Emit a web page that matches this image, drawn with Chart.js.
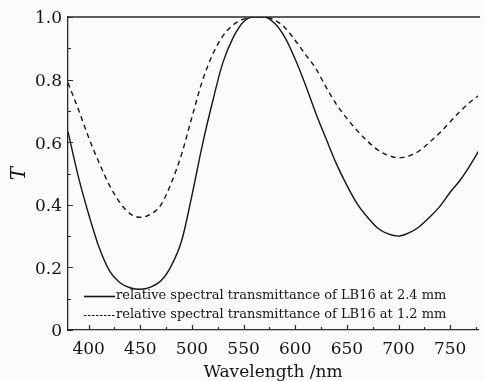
<!DOCTYPE html>
<html>
<head>
<meta charset="utf-8">
<script src="https://cdn.jsdelivr.net/npm/chart.js@4"></script>
<style>
  html, body { margin: 0; padding: 0; background: #fbfbfb; }
  #wrap { width: 485px; height: 381px; position: relative; }
</style>
</head>
<body>
<div id="wrap"><canvas id="chart"></canvas></div>
<script>
// ── Data ──────────────────────────────────────────────────────────────────
const wavelengths = [380, 390, 400, 410, 420, 430, 440, 450, 460, 470,
                     480, 490, 500, 510, 520, 530, 540, 550, 560, 570,
                     580, 590, 600, 610, 620, 630, 640, 650, 660, 670,
                     680, 690, 700, 710, 720, 730, 740, 750, 760, 770, 780];

// LB16 at 2.4 mm (solid)
const t24 = [0.634, 0.49, 0.37, 0.265, 0.19, 0.152, 0.135, 0.13, 0.137, 0.157,
             0.205, 0.285, 0.43, 0.59, 0.73, 0.855, 0.935, 0.985, 1.0, 1.0,
             0.98, 0.935, 0.865, 0.782, 0.692, 0.61, 0.53, 0.462, 0.403, 0.36,
             0.325, 0.307, 0.30, 0.31, 0.33, 0.36, 0.395, 0.44, 0.48, 0.53, 0.585];

// LB16 at 1.2 mm (dashed)
const t12 = [0.79, 0.705, 0.615, 0.535, 0.463, 0.408, 0.372, 0.36, 0.37, 0.40,
             0.47, 0.562, 0.68, 0.795, 0.88, 0.94, 0.975, 0.993, 1.0, 1.0,
             0.99, 0.966, 0.925, 0.88, 0.835, 0.775, 0.72, 0.676, 0.637, 0.603,
             0.575, 0.558, 0.55, 0.556, 0.572, 0.60, 0.63, 0.665, 0.7, 0.73, 0.755];

const seriesLabels = [
  'relative spectral transmittance of LB16 at 2.4 mm',
  'relative spectral transmittance of LB16 at 1.2 mm',
];

const xTicks = [400, 425, 450, 475, 500, 525, 550, 575, 600, 625, 650, 675, 700, 725, 750, 775];
const yTicks = [0, 0.1, 0.2, 0.3, 0.4, 0.5, 0.6, 0.7, 0.8, 0.9, 1.0];

const INK   = '#151515';
const FRAME = '#2a2a2a';
const SERIF = '"DejaVu Serif", "Liberation Serif", serif';

// ── Inward tick marks, top frame line and inset legend ────────────────────
const framePlugin = {
  id: 'frame',
  afterDraw(chart) {
    const { ctx, chartArea: a, scales: { x, y } } = chart;
    ctx.save();
    ctx.strokeStyle = FRAME;
    ctx.lineWidth = 1.3;
    ctx.beginPath();
    ctx.moveTo(a.left, a.top);
    ctx.lineTo(a.right + 2, a.top);
    ctx.stroke();

    ctx.lineWidth = 1.2;
    ctx.beginPath();
    xTicks.forEach(v => {
      const px = Math.round(x.getPixelForValue(v)) + 0.5;
      const len = v % 50 === 0 ? 5 : 3;
      ctx.moveTo(px, a.bottom);
      ctx.lineTo(px, a.bottom - len);
    });
    yTicks.forEach(v => {
      const py = Math.round(y.getPixelForValue(v)) + 0.5;
      const major = Math.round(v * 10) % 2 === 0;
      ctx.moveTo(a.left, py);
      ctx.lineTo(a.left + (major ? 5 : 3), py);
    });
    ctx.stroke();

    // legend
    ctx.font = '13px ' + SERIF;
    ctx.fillStyle = INK;
    ctx.textBaseline = 'middle';
    chart.data.datasets.forEach((ds, i) => {
      const ly = 296 + i * 19;
      ctx.strokeStyle = INK;
      ctx.lineWidth = i === 0 ? 1.6 : 1.2;
      ctx.setLineDash(i === 0 ? [] : [2.5, 1.5]);
      ctx.beginPath();
      ctx.moveTo(84, ly + 0.5);
      ctx.lineTo(115, ly + 0.5);
      ctx.stroke();
      ctx.setLineDash([]);
      ctx.fillText(ds.label, 116, ly);
    });
    ctx.restore();
  },
};

new Chart(document.getElementById('chart'), {
  type: 'line',
  data: {
    labels: wavelengths,
    datasets: [
      {
        label: seriesLabels[0],
        data: wavelengths.map((w, i) => ({ x: w, y: t24[i] })),
        borderColor: INK,
        borderWidth: 1.4,
        pointRadius: 0,
        cubicInterpolationMode: 'monotone',
        fill: false,
      },
      {
        label: seriesLabels[1],
        data: wavelengths.map((w, i) => ({ x: w, y: t12[i] })),
        borderColor: INK,
        borderWidth: 1.4,
        borderDash: [5, 4],
        pointRadius: 0,
        cubicInterpolationMode: 'monotone',
        fill: false,
      },
    ],
  },
  options: {
    responsive: true,
    maintainAspectRatio: false,
    animation: false,
    devicePixelRatio: 1,
    layout: { padding: { top: 17, right: 0, left: 0, bottom: 0 } },
    plugins: { legend: { display: false }, tooltip: { enabled: false } },
    scales: {
      x: {
        type: 'linear',
        min: 380,
        max: 777,
        afterBuildTicks: s => { s.ticks = xTicks.map(v => ({ value: v })); },
        afterFit: s => { s.height = 51; },
        grid: { display: false, drawTicks: false },
        border: { display: true, color: FRAME, width: 1.3 },
        ticks: {
          autoSkip: false,
          maxRotation: 0,
          padding: 9,
          color: INK,
          font: { family: SERIF, size: 17 },
          callback: v => (v % 50 === 0 ? String(v) : ''),
        },
        title: {
          display: true,
          text: 'Wavelength /nm',
          color: INK,
          font: { family: SERIF, size: 17, lineHeight: 1 },
          padding: { top: 0, bottom: 0 },
        },
      },
      y: {
        min: 0,
        max: 1,
        afterBuildTicks: s => { s.ticks = yTicks.map(v => ({ value: v })); },
        afterFit: s => { s.width = 68; },
        grid: { display: false, drawTicks: false },
        border: { display: true, color: FRAME, width: 1.3 },
        ticks: {
          autoSkip: false,
          padding: 6,
          labelOffset: 2,
          color: INK,
          font: { family: SERIF, size: 17 },
          callback: v => {
            const k = Math.round(v * 10);
            if (k % 2 !== 0) return '';
            return k === 0 ? '0' : (k / 10).toFixed(1);
          },
        },
        title: {
          display: true,
          text: 'T',
          color: INK,
          font: { family: SERIF, size: 20, style: 'italic', lineHeight: 1 },
          padding: { top: 10, bottom: 0 },
        },
      },
    },
  },
  plugins: [framePlugin],
});
</script>
</body>
</html>
